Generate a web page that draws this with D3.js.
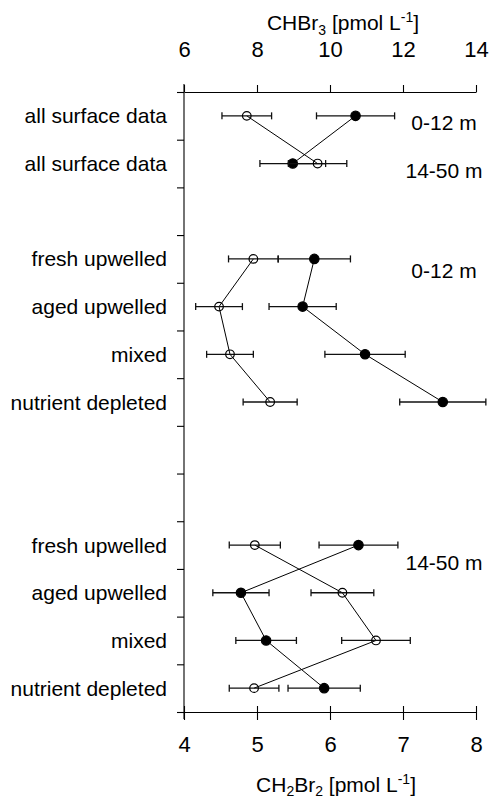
<!DOCTYPE html>
<html>
<head>
<meta charset="utf-8">
<script src="https://cdn.jsdelivr.net/npm/d3@7"></script>
<style>
  html, body { margin: 0; padding: 0; background: #fff; }
  svg { display: block; font-family: "Liberation Sans", Arial, sans-serif; }
</style>
</head>
<body>
<svg id="chart" width="489" height="799"></svg>
<script>
// Row labels, top to bottom (blank rows separate the groups)
const rowLabels = [
  "all surface data", "all surface data", "",
  "fresh upwelled", "aged upwelled", "mixed", "nutrient depleted", "", "",
  "fresh upwelled", "aged upwelled", "mixed", "nutrient depleted"
];

// Row index of each data point
const pointRows = [0, 1, 3, 4, 5, 6, 9, 10, 11, 12];

// Rows joined by connecting lines
const lineGroups = [[0, 1], [3, 4, 5, 6], [9, 10, 11, 12]];

// CHBr3 (filled circles, top axis): mean and standard deviation
const chbr3Mean = [10.70, 8.98, 9.57, 9.25, 10.96, 13.09, 10.78, 7.56, 8.25, 9.84];
const chbr3Sd   = [1.07, 0.90, 0.99, 0.92, 1.10, 1.18, 1.08, 0.77, 0.83, 0.99];

// CH2Br2 (open circles, bottom axis): mean and standard deviation
const ch2br2Mean = [4.86, 5.83, 4.95, 4.48, 4.63, 5.18, 4.97, 6.17, 6.63, 4.96];
const ch2br2Sd   = [0.34, 0.40, 0.34, 0.32, 0.32, 0.37, 0.35, 0.43, 0.47, 0.34];

// Axis ticks
const topTicks = [6, 8, 10, 12, 14];
const bottomTicks = [4, 5, 6, 7, 8];

// Depth labels on the right side
const depthLabels = ["0-12 m", "14-50 m", "0-12 m", "14-50 m"];
const depthLabelPos = [0.8, 1.8, 3.9, 10.02];

const svg = d3.select("#chart");
const plotLeft = 184, plotRight = 476, plotTop = 92, plotBottom = 712;
const fs = 21;

const xTop = d3.scaleLinear().domain([6, 14]).range([plotLeft, plotRight]);
const xBot = d3.scaleLinear().domain([4, 8]).range([plotLeft, plotRight]);
const yRow = d3.scaleLinear().domain([0, rowLabels.length]).range([plotTop, plotBottom]);
const yc = i => yRow(i + 0.5);

// Top axis
const gTop = svg.append("g").attr("transform", `translate(0,${plotTop})`)
  .call(d3.axisTop(xTop).tickValues(topTicks).tickFormat(d3.format("d")).tickSize(7).tickSizeOuter(0));
gTop.selectAll("text").attr("y", -35).attr("dy", "0").style("font-size", "22px").attr("fill", "#000");

// Bottom axis, ticks cross the line
const gBot = svg.append("g").attr("transform", `translate(0,${plotBottom})`)
  .call(d3.axisBottom(xBot).tickValues(bottomTicks).tickFormat(d3.format("d")).tickSize(8).tickSizeOuter(0));
gBot.selectAll(".tick line").attr("y1", -6).attr("y2", 8);
gBot.selectAll("text").attr("y", 40).attr("dy", "0").style("font-size", "22px").attr("fill", "#000");

// Left axis with ticks at row boundaries
const gLeft = svg.append("g").attr("transform", `translate(${plotLeft},0)`)
  .call(d3.axisLeft(yRow).tickValues(d3.range(0, rowLabels.length + 1)).tickSize(7).tickFormat("").tickSizeOuter(0));
gLeft.select(".domain").attr("d", `M0,${plotTop - 8}V${plotBottom + 7}`);

svg.selectAll(".domain, .tick line").attr("stroke", "#000").attr("stroke-width", 1.1);

// Row labels
svg.append("g").selectAll("text")
  .data(rowLabels.map((t, i) => ({ t, i })).filter(d => d.t))
  .join("text")
  .attr("x", 167).attr("y", d => yc(d.i))
  .attr("text-anchor", "end").attr("dominant-baseline", "central")
  .style("font-size", fs + "px").text(d => d.t);

// Depth labels
svg.append("g").selectAll("text")
  .data(depthLabels)
  .join("text")
  .attr("x", 444).attr("y", (d, i) => yRow(depthLabelPos[i]))
  .attr("text-anchor", "middle")
  .style("font-size", fs + "px").text(d => d);

// Axis titles
(function () {
  const t = svg.append("text").attr("x", 343).attr("y", 30).attr("text-anchor", "middle").style("font-size", fs + "px");
  t.append("tspan").text("CHBr");
  t.append("tspan").attr("dy", 5).style("font-size", "14px").text("3");
  t.append("tspan").attr("dy", -5).text(" [pmol L");
  t.append("tspan").attr("dy", -8).style("font-size", "14px").text("-1");
  t.append("tspan").attr("dy", 8).text("]");
})();
(function () {
  const t = svg.append("text").attr("x", 336).attr("y", 792).attr("text-anchor", "middle").style("font-size", fs + "px");
  t.append("tspan").text("CH");
  t.append("tspan").attr("dy", 4).style("font-size", "14px").text("2");
  t.append("tspan").attr("dy", -4).text("Br");
  t.append("tspan").attr("dy", 4).style("font-size", "14px").text("2");
  t.append("tspan").attr("dy", -4).text(" [pmol L");
  t.append("tspan").attr("dy", -8).style("font-size", "14px").text("-1");
  t.append("tspan").attr("dy", 8).text("]");
})();

const series = [
  { mean: chbr3Mean, sd: chbr3Sd, x: xTop, filled: true },
  { mean: ch2br2Mean, sd: ch2br2Sd, x: xBot, filled: false }
];

const plot = svg.append("g");
series.forEach(s => {
  const pts = pointRows.map((r, i) => ({ r, m: s.mean[i], sd: s.sd[i] }));
  const line = d3.line().x(d => s.x(d.m)).y(d => yc(d.r));

  // connecting lines within each group
  lineGroups.forEach(g => {
    const seg = pts.filter(p => g.includes(p.r));
    plot.append("path").attr("d", line(seg)).attr("fill", "none").attr("stroke", "#000").attr("stroke-width", 1);
  });

  // error bars
  const eb = plot.append("g").attr("stroke", "#111").attr("stroke-width", 1.3);
  pts.forEach(p => {
    const y = yc(p.r), x0 = s.x(p.m - p.sd), x1 = s.x(p.m + p.sd);
    eb.append("line").attr("x1", x0).attr("x2", x1).attr("y1", y).attr("y2", y);
    eb.append("line").attr("x1", x0).attr("x2", x0).attr("y1", y - 3.5).attr("y2", y + 3.5);
    eb.append("line").attr("x1", x1).attr("x2", x1).attr("y1", y - 3.5).attr("y2", y + 3.5);
  });

  // markers
  plot.append("g").selectAll("circle").data(pts).join("circle")
    .attr("cx", d => s.x(d.m)).attr("cy", d => yc(d.r))
    .attr("r", s.filled ? 4.7 : 4.3)
    .attr("fill", s.filled ? "#000" : "none")
    .attr("stroke", "#000").attr("stroke-width", 1.2);
});
</script>
</body>
</html>
